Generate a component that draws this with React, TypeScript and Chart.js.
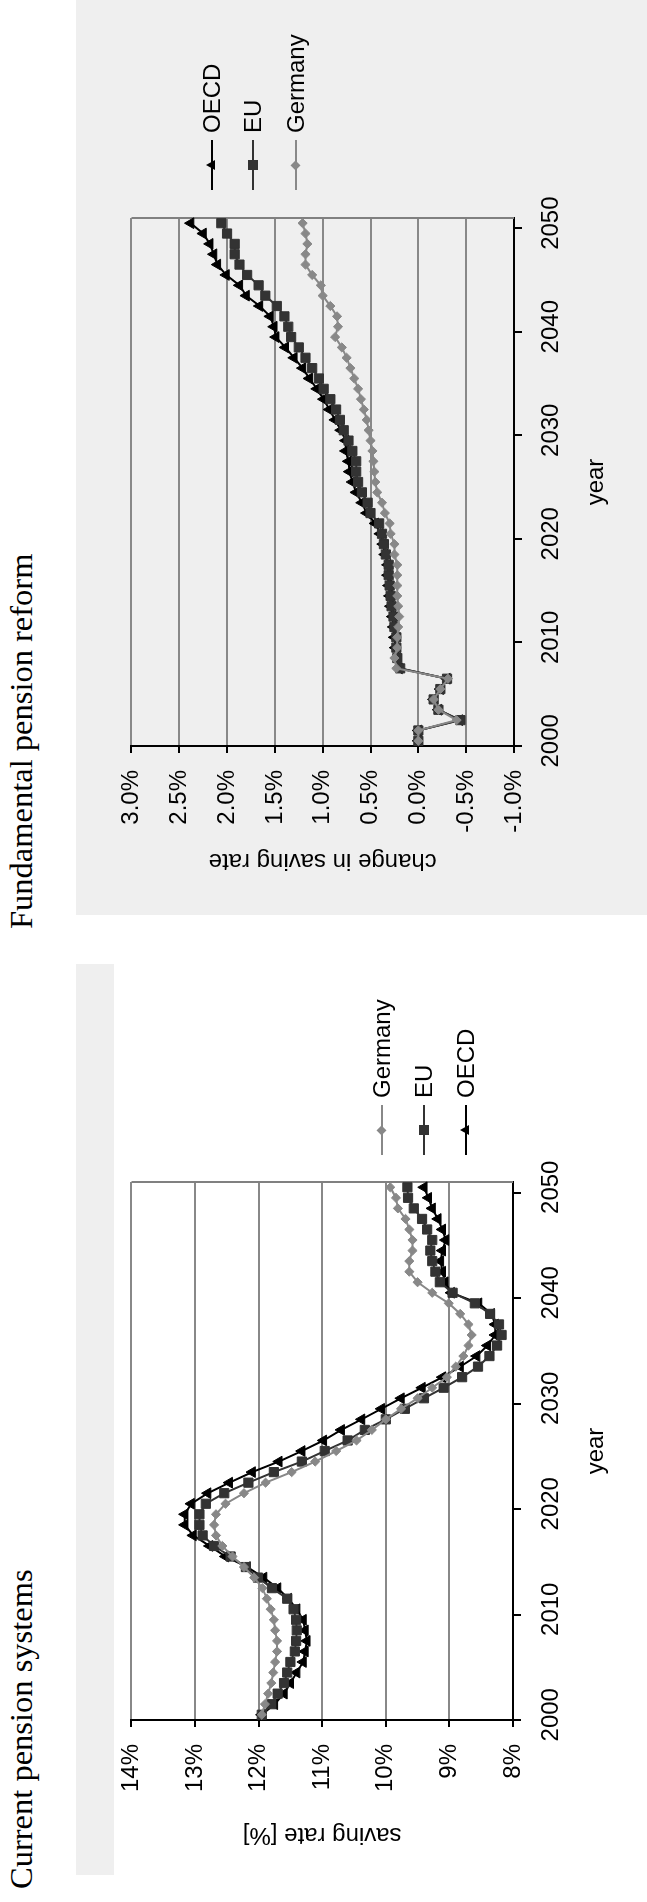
import React, { useEffect, useRef } from 'react';
import { Chart, registerables } from 'chart.js';

Chart.register(...registerables);

// ---------- data ----------
const YEARS = [
  '2000', '2001', '2002', '2003', '2004', '2005', '2006', '2007', '2008', '2009',
  '2010', '2011', '2012', '2013', '2014', '2015', '2016', '2017', '2018', '2019',
  '2020', '2021', '2022', '2023', '2024', '2025', '2026', '2027', '2028', '2029',
  '2030', '2031', '2032', '2033', '2034', '2035', '2036', '2037', '2038', '2039',
  '2040', '2041', '2042', '2043', '2044', '2045', '2046', '2047', '2048', '2049',
  '2050',
];
const YEAR_TICK_LABELS = ['2000', '2010', '2020', '2030', '2040', '2050'];

// Current pension systems: saving rate [%]
const CURRENT_GERMANY = [
  11.95, 11.9, 11.85, 11.8, 11.77, 11.74, 11.71, 11.71, 11.74, 11.76,
  11.81, 11.87, 11.94, 12.07, 12.23, 12.41, 12.57, 12.67, 12.7, 12.67,
  12.52, 12.23, 11.89, 11.48, 11.11, 10.78, 10.46, 10.22, 10.0, 9.76,
  9.5, 9.27, 9.04, 8.9, 8.78, 8.7, 8.65, 8.7, 8.83, 9.01,
  9.27, 9.5, 9.63, 9.63, 9.58, 9.58, 9.63, 9.69, 9.81, 9.84,
  9.93,
];
const CURRENT_EU = [
  11.95, 11.8, 11.7, 11.6, 11.55, 11.5, 11.43, 11.41, 11.4, 11.41,
  11.45, 11.55, 11.79, 12.01, 12.2, 12.44, 12.7, 12.88, 12.93, 12.93,
  12.83, 12.54, 12.16, 11.76, 11.32, 10.96, 10.6, 10.33, 10.0, 9.7,
  9.4, 9.09, 8.8, 8.55, 8.37, 8.25, 8.18, 8.22, 8.36, 8.6,
  8.95, 9.15, 9.22, 9.27, 9.3, 9.27, 9.35, 9.43, 9.56, 9.65,
  9.66,
];
const CURRENT_OECD = [
  11.95, 11.75, 11.6, 11.5, 11.4, 11.3, 11.27, 11.24, 11.27, 11.3,
  11.4, 11.53, 11.7, 11.92, 12.18, 12.52, 12.77, 13.03, 13.16, 13.16,
  13.06, 12.8, 12.46, 12.1, 11.68, 11.32, 10.98, 10.7, 10.38, 10.07,
  9.76, 9.43, 9.11, 8.83, 8.57, 8.4, 8.28, 8.28, 8.34, 8.54,
  8.97, 9.07, 9.11, 9.14, 9.11, 9.06, 9.11, 9.18, 9.27, 9.33,
  9.4,
];
const CURRENT_Y_TICKS = [8, 9, 10, 11, 12, 13, 14];

// Fundamental pension reform: change in saving rate [%]
const REFORM_GERMANY = [
  0.0, 0.0, -0.4, -0.21, -0.16, -0.23, -0.31, 0.23, 0.25, 0.22,
  0.22, 0.21, 0.2, 0.21, 0.22, 0.22, 0.22, 0.22, 0.25, 0.25,
  0.29, 0.3, 0.35, 0.38, 0.43, 0.45, 0.46, 0.47, 0.48, 0.5,
  0.52, 0.54, 0.57, 0.6, 0.63, 0.67, 0.71, 0.75, 0.8, 0.87,
  0.84, 0.85, 0.92, 1.0, 1.02, 1.11, 1.18, 1.18, 1.16, 1.18,
  1.21,
];
const REFORM_EU = [
  0.0, 0.0, -0.44, -0.21, -0.16, -0.23, -0.3, 0.19, 0.22, 0.23,
  0.23, 0.25, 0.26, 0.28, 0.29, 0.3, 0.31, 0.31, 0.34, 0.36,
  0.38, 0.41, 0.5, 0.53, 0.59, 0.63, 0.65, 0.65, 0.69, 0.73,
  0.78, 0.82, 0.86, 0.92, 0.99, 1.04, 1.11, 1.18, 1.25, 1.33,
  1.36, 1.4, 1.48, 1.6, 1.67, 1.79, 1.87, 1.92, 1.92, 2.0,
  2.06,
];
const REFORM_OECD = [
  0.0, 0.0, -0.43, -0.21, -0.16, -0.23, -0.3, 0.2, 0.22, 0.24,
  0.25, 0.26, 0.27, 0.29, 0.3, 0.31, 0.32, 0.32, 0.35, 0.37,
  0.4, 0.45, 0.54, 0.59, 0.65, 0.69, 0.72, 0.73, 0.76, 0.76,
  0.81, 0.87, 0.93, 0.99, 1.06, 1.14, 1.21, 1.3, 1.39, 1.49,
  1.51, 1.55, 1.66, 1.8, 1.87, 2.01, 2.1, 2.14, 2.18, 2.25,
  2.38,
];
const REFORM_Y_TICKS = [-1, -0.5, 0, 0.5, 1, 1.5, 2, 2.5, 3];

// ---------- styles ----------
const SANS = '"Liberation Sans", Arial, sans-serif';
const SERIF = '"Liberation Serif", "Times New Roman", serif';
const PANEL_GRAY = '#efefef';

type SeriesName = 'Germany' | 'EU' | 'OECD';
const SERIES_STYLE: Record<SeriesName, { color: string; pointStyle: any; radius: number }> = {
  Germany: { color: '#888888', pointStyle: 'rectRot', radius: 4.6 },
  EU: { color: '#333333', pointStyle: 'rect', radius: 6.5 },
  OECD: { color: '#000000', pointStyle: 'triangle', radius: 6.2 },
};

const rightFrame = {
  id: 'rightFrame',
  beforeDatasetsDraw(chart: any) {
    const { ctx, chartArea: a } = chart;
    ctx.save();
    ctx.strokeStyle = '#808080';
    ctx.lineWidth = 2;
    ctx.beginPath();
    ctx.moveTo(a.right, a.top);
    ctx.lineTo(a.right, a.bottom);
    ctx.stroke();
    ctx.restore();
  },
};

type ChartProps = {
  left: number;
  top: number;
  width: number;
  height: number;
  series: { name: SeriesName; data: number[] }[];
  yTicks: number[];
  decimals: number;
  yTitle: string;
  padding: { left: number; right: number; top: number; bottom: number };
  yWidth: number;
  xHeight: number;
  xLabelPad: number;
};

function LineChart(p: ChartProps) {
  const ref = useRef<HTMLCanvasElement>(null);
  useEffect(() => {
    const chart = new Chart(ref.current as HTMLCanvasElement, {
      type: 'line',
      data: {
        labels: YEARS,
        datasets: p.series.map((s) => {
          const st = SERIES_STYLE[s.name];
          return {
            label: s.name,
            data: s.data,
            borderColor: st.color,
            backgroundColor: st.color,
            borderWidth: 2,
            pointStyle: st.pointStyle,
            pointRadius: st.radius,
            pointBackgroundColor: st.color,
            pointBorderColor: st.color,
            pointBorderWidth: 1,
            tension: 0,
            fill: false,
          };
        }),
      },
      options: {
        responsive: false,
        animation: false,
        events: [],
        layout: { padding: p.padding },
        plugins: { legend: { display: false }, tooltip: { enabled: false } },
        scales: {
          x: {
            type: 'category',
            offset: true,
            afterFit: (s: any) => {
              s.height = p.xHeight;
            },
            grid: {
              offset: true,
              drawOnChartArea: false,
              drawTicks: true,
              tickLength: 8,
              lineWidth: 2,
              color: (c: any) =>
                c.type === 'tick' && YEAR_TICK_LABELS.includes(YEARS[c.index]) ? '#000' : 'rgba(0,0,0,0)',
              tickColor: (c: any) =>
                c.type === 'tick' && YEAR_TICK_LABELS.includes(YEARS[c.index]) ? '#000' : 'rgba(0,0,0,0)',
            },
            border: { display: true, color: '#000', width: 2 },
            ticks: {
              autoSkip: false,
              maxRotation: 0,
              minRotation: 0,
              padding: p.xLabelPad,
              color: '#000',
              font: { family: SANS, size: 24 },
              callback: function (this: any, v: any) {
                const lab = this.getLabelForValue(v);
                return YEAR_TICK_LABELS.includes(lab) ? lab : '';
              },
            },
            title: {
              display: true,
              text: 'year',
              color: '#000',
              padding: 0,
              font: { family: SANS, size: 24 },
            },
          },
          y: {
            type: 'linear',
            min: p.yTicks[0],
            max: p.yTicks[p.yTicks.length - 1],
            afterFit: (s: any) => {
              s.width = p.yWidth;
            },
            afterBuildTicks: (s: any) => {
              s.ticks = p.yTicks.map((v) => ({ value: v }));
            },
            grid: {
              color: '#888888',
              lineWidth: 2,
              drawTicks: true,
              tickLength: 7,
              tickColor: '#000',
              tickWidth: 2,
            },
            border: { display: true, color: '#000', width: 2 },
            ticks: {
              padding: 17,
              color: '#000',
              font: { family: SANS, size: 24 },
              callback: (v: any) => Number(v).toFixed(p.decimals) + '%',
            },
            title: {
              display: true,
              text: p.yTitle,
              color: '#000',
              padding: 0,
              font: { family: SANS, size: 24 },
            },
          },
        },
      },
      plugins: [rightFrame],
    } as any);
    return () => chart.destroy();
  }, []);
  return (
    <canvas
      ref={ref}
      width={p.width}
      height={p.height}
      style={{ position: 'absolute', left: p.left, top: p.top, width: p.width, height: p.height }}
    />
  );
}

function Marker({ name }: { name: SeriesName }) {
  const c = SERIES_STYLE[name].color;
  if (name === 'Germany') {
    return (
      <div
        style={{
          position: 'absolute', left: 25 - 3.6, top: 15 - 3.6, width: 7.2, height: 7.2,
          background: c, transform: 'rotate(45deg)',
        }}
      />
    );
  }
  if (name === 'EU') {
    return <div style={{ position: 'absolute', left: 25 - 5, top: 15 - 5, width: 10, height: 10, background: c }} />;
  }
  return (
    <div
      style={{
        position: 'absolute', left: 25 - 5.5, top: 15 - 6, width: 0, height: 0,
        borderLeft: '5.5px solid transparent', borderRight: '5.5px solid transparent',
        borderBottom: `9.5px solid ${c}`,
      }}
    />
  );
}

function LegendRow({ x, y, name }: { x: number; y: number; name: SeriesName }) {
  const c = SERIES_STYLE[name].color;
  return (
    <div
      style={{
        position: 'absolute', left: x, top: y - 15, height: 30, display: 'flex', alignItems: 'center',
        fontFamily: SANS, fontSize: 24, color: '#000', whiteSpace: 'nowrap',
      }}
    >
      <div style={{ position: 'relative', width: 50, height: 30 }}>
        <div style={{ position: 'absolute', left: 0, top: 14, width: 50, height: 2, background: c }} />
        <Marker name={name} />
      </div>
      <span style={{ marginLeft: 7, lineHeight: '30px' }}>{name}</span>
    </div>
  );
}

const titleStyle: React.CSSProperties = {
  position: 'absolute', top: 5, fontFamily: SERIF, fontSize: 32.5, lineHeight: '32px',
  color: '#000', whiteSpace: 'nowrap',
};

export default function App() {
  return (
    <div
      style={{
        position: 'absolute', left: 0, top: 0, width: 1902, height: 647, background: '#fff',
        overflow: 'hidden', transformOrigin: '0 0', transform: 'translateY(1902px) rotate(-90deg)',
      }}
    >
      {/* left panel */}
      <div style={{ position: 'absolute', left: 27, top: 76, width: 911, height: 38, background: PANEL_GRAY }} />
      <div style={{ ...titleStyle, left: 13 }}>Current pension systems</div>
      <LineChart
        left={0}
        top={100}
        width={980}
        height={547}
        series={[
          { name: 'Germany', data: CURRENT_GERMANY },
          { name: 'EU', data: CURRENT_EU },
          { name: 'OECD', data: CURRENT_OECD },
        ]}
        yTicks={CURRENT_Y_TICKS}
        decimals={0}
        yTitle="saving rate [%]"
        padding={{ left: 52.8, right: 260, top: 28, bottom: 35.9 }}
        yWidth={129.2}
        xHeight={98.1}
        xLabelPad={16.1}
      />
      <LegendRow x={747} y={382} name="Germany" />
      <LegendRow x={747} y={424} name="EU" />
      <LegendRow x={747} y={466} name="OECD" />

      {/* right panel */}
      <div style={{ position: 'absolute', left: 987, top: 76, width: 915, height: 571, background: PANEL_GRAY }} />
      <div style={{ ...titleStyle, left: 973 }}>Fundamental pension reform</div>
      <LineChart
        left={960}
        top={100}
        width={942}
        height={547}
        series={[
          { name: 'Germany', data: REFORM_GERMANY },
          { name: 'EU', data: REFORM_EU },
          { name: 'OECD', data: REFORM_OECD },
        ]}
        yTicks={REFORM_Y_TICKS}
        decimals={1}
        yTitle="change in saving rate"
        padding={{ left: 66.8, right: 218, top: 28, bottom: 35.9 }}
        yWidth={129.2}
        xHeight={97.1}
        xLabelPad={15.1}
      />
      <LegendRow x={1712} y={212} name="OECD" />
      <LegendRow x={1712} y={253} name="EU" />
      <LegendRow x={1712} y={296} name="Germany" />
    </div>
  );
}
